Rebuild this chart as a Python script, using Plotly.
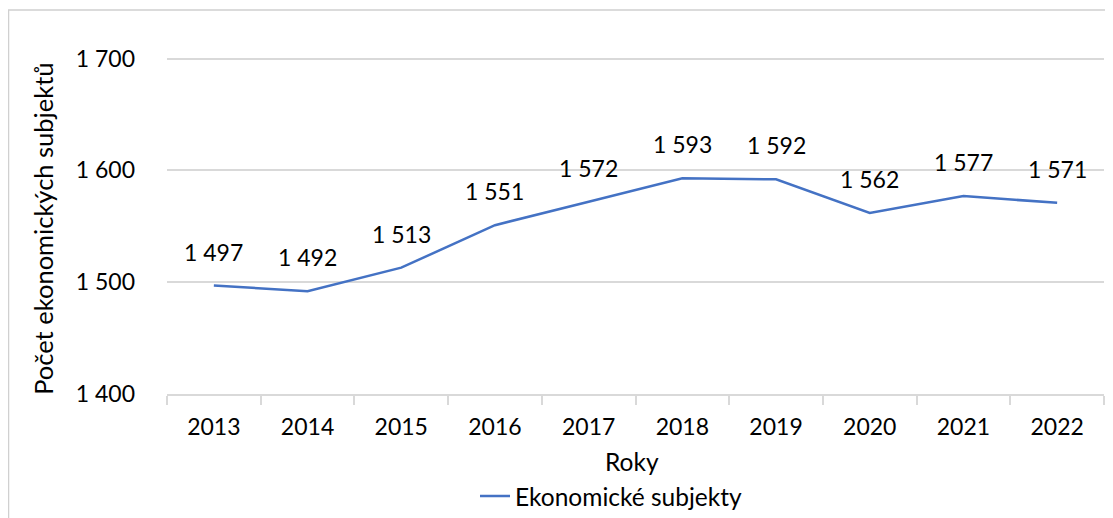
import plotly.graph_objects as go

years = ["2013", "2014", "2015", "2016", "2017", "2018", "2019", "2020", "2021", "2022"]
subjects = [1497, 1492, 1513, 1551, 1572, 1593, 1592, 1562, 1577, 1571]
series_name = "Ekonomické subjekty"
x_title = "Roky"
y_title = "Počet ekonomických subjektů"
y_ticks = [1400, 1500, 1600, 1700]
y_tick_labels = ["1 400", "1 500", "1 600", "1 700"]

FONT = "Lato"
FSN = 23     # numbers
FST = 24.5   # legend / x title
FSY = 25.5   # y title
BLACK = "#000000"
OFF = 8  # page body margin
W, H = 1113 - OFF, 518 - OFF
ML, MR = 167 - OFF, 9
MT, MB = 59 - OFF - 5 * (335 / 300), 518 - 394
PW, PH = W - ML - MR, H - MT - MB

def px_x(px):  # reference screen x -> paper
    return (px - OFF - ML) / PW

def px_y(py):  # reference screen y -> paper
    return (H - MB - (py - OFF)) / PH

fig = go.Figure()
fig.add_trace(go.Scatter(
    x=list(range(len(years))), y=subjects, mode="lines", name=series_name,
    line=dict(color="#4472C4", width=2.5),
    hoverinfo="skip",
))

for i, v in enumerate(subjects):
    fig.add_annotation(
        x=i, y=v, text=f"{v:,}".replace(",", " "),
        showarrow=False, yshift=34, yanchor="middle", xanchor="center",
        font=dict(family=FONT, size=FSN, color=BLACK),
    )

# axis titles
fig.add_annotation(x=px_x(632), y=px_y(461), xref="paper", yref="paper", text=x_title,
                   showarrow=False, xanchor="center", yanchor="middle",
                   font=dict(family=FONT, size=FST, color=BLACK))
fig.add_annotation(x=px_x(43), y=px_y(229), xref="paper", yref="paper", text=y_title,
                   showarrow=False, xanchor="center", yanchor="middle", textangle=-90,
                   font=dict(family=FONT, size=FSY, color=BLACK))

# chart border
fig.add_shape(
    type="rect", xref="paper", yref="paper",
    x0=px_x(8.5), x1=px_x(1125), y0=px_y(540), y1=px_y(10.5),
    line=dict(color="#d0d0d0", width=1.5), fillcolor="rgba(0,0,0,0)", layer="below",
)

fig.update_layout(
    width=W, height=H,
    margin=dict(l=ML, r=MR, t=MT, b=MB, pad=0, autoexpand=False),
    paper_bgcolor="white", plot_bgcolor="white",
    font=dict(family=FONT, size=FSN, color=BLACK),
    showlegend=True,
    legend=dict(orientation="h", x=px_x(611), xanchor="center", y=px_y(496), yanchor="middle",
                font=dict(family=FONT, size=FST, color=BLACK)),
    xaxis=dict(
        type="linear", showgrid=False, showline=True, linecolor="#d9d9d9", linewidth=1.5,
        tickmode="array", tickvals=list(range(len(years))), ticktext=years,
        ticks="", tickfont=dict(family=FONT, size=FSN, color=BLACK),
        ticklabelstandoff=12,
        range=[-0.5, len(years) - 0.5], fixedrange=True, automargin=False, zeroline=False,
        minor=dict(tickmode="array", tickvals=[i - 0.5 for i in range(len(years) + 1)],
                   ticks="outside", ticklen=9, tickcolor="#d9d9d9", tickwidth=1.5, showgrid=False),
    ),
    yaxis=dict(
        range=[1400, 1705], tickvals=y_ticks, ticktext=y_tick_labels,
        showgrid=True, gridcolor="#d9d9d9", gridwidth=1.5, zeroline=False, showline=False,
        tickfont=dict(family=FONT, size=FSN, color=BLACK),
        ticklabelstandoff=31, automargin=False,
        fixedrange=True,
    ),
)

fig.write_html("out.html")
